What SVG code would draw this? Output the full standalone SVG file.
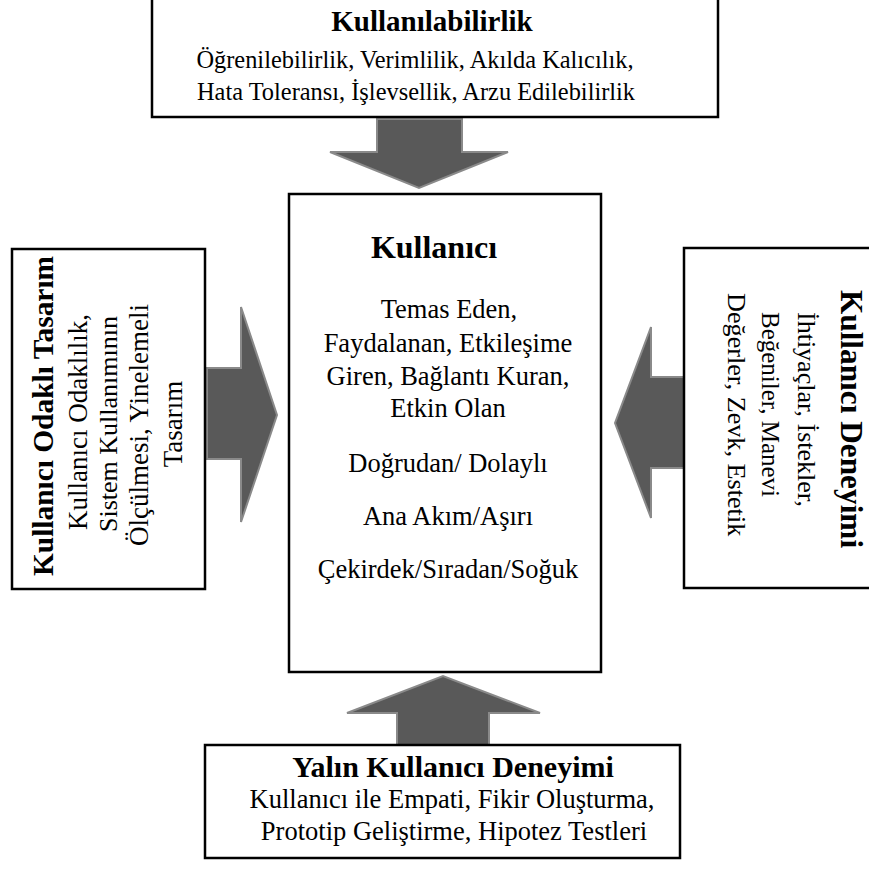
<svg xmlns="http://www.w3.org/2000/svg" width="869" height="869" viewBox="0 0 869 869">
<style>
.box{fill:#fff;stroke:#000;stroke-width:2.5}
.arr{fill:#595959;stroke:#8a8a8a;stroke-width:2;stroke-linejoin:miter}
text{font-family:'Liberation Serif','DejaVu Serif',serif;fill:#000}
.t{font-weight:bold}
.m{text-anchor:middle}
</style>
<rect width="869" height="869" fill="#fff"/>
<g id="connectors">
<polygon class="arr" points="377,119 462,119 462,152 508,152 419,188 330,152 377,152"/>
<polygon class="arr" points="207,368 241,368 241,307 277,415 241,522 241,459 207,459"/>
<polygon class="arr" points="684,377 651,377 651,327 615,423 651,518 651,468 684,468"/>
<polygon class="arr" points="397,745 397,713 347,713 443,676 540,713 489,713 489,745"/>
</g>
<g font-family="Liberation Serif, DejaVu Serif, serif">
<g id="kullanilabilirlik">
<rect class="box" x="152" y="-2" width="566" height="119"/>
<text class="t m" x="432" y="31" font-size="29">Kullanılabilirlik</text>
<text class="m" x="415" y="68" font-size="24.4">Öğrenilebilirlik, Verimlilik, Akılda Kalıcılık,</text>
<text class="m" x="416" y="100" font-size="24.4">Hata Toleransı, İşlevsellik, Arzu Edilebilirlik</text>
</g>
<g id="kullanici">
<rect class="box" x="289" y="194" width="312" height="478"/>
<text class="t m" x="434" y="258" font-size="32">Kullanıcı</text>
<text class="m" x="449" y="318" font-size="26.5">Temas Eden,</text>
<text class="m" x="448" y="352" font-size="26.5">Faydalanan, Etkileşime</text>
<text class="m" x="448" y="385" font-size="26.5">Giren, Bağlantı Kuran,</text>
<text class="m" x="448" y="417" font-size="26.5">Etkin Olan</text>
<text class="m" x="448" y="472" font-size="26.5">Doğrudan/ Dolaylı</text>
<text class="m" x="448" y="525" font-size="26.5">Ana Akım/Aşırı</text>
<text class="m" x="448" y="578" font-size="26.5">Çekirdek/Sıradan/Soğuk</text>
</g>
<g id="kullanici-odakli-tasarim">
<rect class="box" x="12" y="249" width="193" height="340"/>
<text class="t m" transform="translate(53,416) rotate(-90)" font-size="29.4">Kullanıcı Odaklı Tasarım</text>
<text class="m" transform="translate(87,422) rotate(-90)" font-size="27">Kullanıcı Odaklılık,</text>
<text class="m" transform="translate(117,424) rotate(-90)" font-size="26">Sistem Kullanımının</text>
<text class="m" transform="translate(148,425) rotate(-90)" font-size="27">Ölçülmesi,  Yinelemeli</text>
<text class="m" transform="translate(182,424) rotate(-90)" font-size="27">Tasarım</text>
</g>
<g id="kullanici-deneyimi">
<rect class="box" x="684" y="248" width="200" height="340"/>
<text class="t m" transform="translate(841,419) rotate(90)" font-size="31.3">Kullanıcı Deneyimi</text>
<text transform="translate(798,312) rotate(90)" font-size="26">İhtiyaçlar, İstekler,</text>
<text transform="translate(762,312) rotate(90)" font-size="25">Beğeniler, Manevi</text>
<text transform="translate(728,293) rotate(90)" font-size="26.2">Değerler, Zevk, Estetik</text>
</g>
<g id="yalin-kullanici-deneyimi">
<rect class="box" x="205" y="745" width="475" height="113"/>
<text class="t m" x="453" y="777" font-size="30">Yalın Kullanıcı Deneyimi</text>
<text class="m" x="452" y="808" font-size="26.5">Kullanıcı ile Empati, Fikir Oluşturma,</text>
<text class="m" x="454" y="840" font-size="26.5">Prototip Geliştirme, Hipotez Testleri</text>
</g>
</g>
</svg>
